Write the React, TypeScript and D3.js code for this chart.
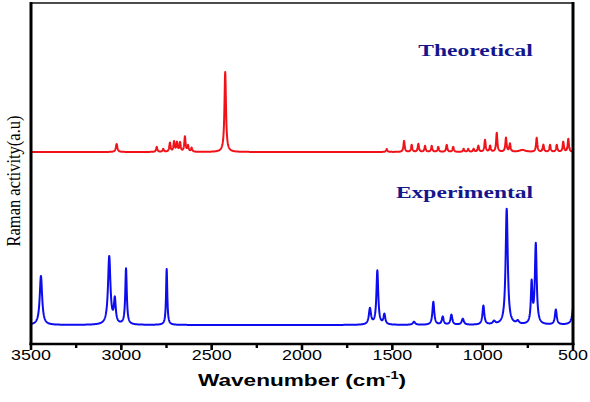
import React from 'react';
import * as d3 from 'd3';

const W = 590;
const H = 402;

const majorTicks = [3500, 3000, 2500, 2000, 1500, 1000, 500];
const minorTicks = [3250, 2750, 2250, 1750, 1250, 750];

// Experimental Raman peaks (cm-1), heights (a.u.), half widths (cm-1)
const expCenters = [3445, 3067, 3036, 2974, 2749, 1624, 1583, 1544, 1380, 1273, 1221, 1173, 1110, 996, 937, 867, 806, 729, 706, 595, 495];
const expHeights = [49, 68, 24, 56, 56, 16, 54, 10, 3, 23, 8, 10, 6, 19, 3, 116, 3, 40, 80, 15, 22];
const expWidths = [8, 8, 6, 5, 4, 7, 6, 6, 8, 6, 6, 6, 7, 6, 8, 7, 8, 5, 6, 6, 9];
const expOffset = 19;

// Theoretical Raman peaks
const theoCenters = [3026, 2804, 2768, 2731, 2708, 2692, 2675, 2648, 2631, 2611, 2425, 1531, 1435, 1393, 1356, 1319, 1282, 1246, 1199, 1163, 1105, 1080, 1050, 1024, 987, 959, 922, 871, 849, 780, 701, 664, 627, 590, 554, 526];
const theoHeights = [8, 5, 3, 9, 10, 9, 9, 15, 6, 4, 80, 3, 11, 7, 8, 6, 6, 5, 7, 5, 3, 3, 3, 6, 12, 6, 19, 14, 8, 2, 14, 7, 7, 7, 10, 13];
const theoWidths = [5, 4, 4, 4, 4, 4, 4, 4, 4, 4, 5, 4, 4, 4, 4, 4, 4, 4, 4, 4, 4, 4, 4, 4, 4, 4, 4, 4, 4, 20, 4, 4, 4, 4, 4, 4];
const theoOffset = 192;

const labelTheo = 'Theoretical';
const labelExp = 'Experimental';

function spectrum(centers: number[], heights: number[], widths: number[], offset: number): [number, number][] {
  const pts: [number, number][] = [];
  for (let w = 3500; w >= 500; w -= 1) {
    let v = offset;
    centers.forEach((c, i) => {
      const g = widths[i];
      v += (heights[i] * g * g) / ((w - c) * (w - c) + g * g);
    });
    pts.push([w, v]);
  }
  return pts;
}

export default function App() {
  const left = 31, right = 573, top = 3, bottom = 344;
  const x = d3.scaleLinear().domain([3500, 500]).range([left, right]);
  const y = d3.scaleLinear().domain([0, 341]).range([bottom, top]);
  const line = d3.line<[number, number]>().x(d => x(d[0])).y(d => y(d[1]));

  const exp = spectrum(expCenters, expHeights, expWidths, expOffset);
  const theo = spectrum(theoCenters, theoHeights, theoWidths, theoOffset);

  const navy = '#16168c';

  return (
    <svg width={W} height={H} style={{ position: 'absolute', left: 0, top: 0, background: '#fff' }}>
      <defs>
        <clipPath id="plot">
          <rect x={left} y={top} width={right - left} height={bottom - top} />
        </clipPath>
      </defs>
      <rect x={0} y={0} width={W} height={H} fill="#fff" />
      <g clipPath="url(#plot)">
        <path d={line(theo) || ''} fill="none" stroke="#f01218" strokeWidth={2} strokeLinejoin="round" />
        <path d={line(exp) || ''} fill="none" stroke="#0c0cee" strokeWidth={2} strokeLinejoin="round" />
      </g>
      {/* frame */}
      <line x1={left} x2={right} y1={top} y2={top} stroke="#111" strokeWidth={1.6} />
      <line x1={left} x2={left} y1={top - 1} y2={bottom + 1} stroke="#000" strokeWidth={3} />
      <line x1={right} x2={right} y1={top - 1} y2={bottom + 1} stroke="#000" strokeWidth={3} />
      <line x1={left - 1.5} x2={right + 1.5} y1={bottom} y2={bottom} stroke="#000" strokeWidth={2.6} />
      {majorTicks.map(t => (
        <line key={'M' + t} x1={x(t)} x2={x(t)} y1={bottom} y2={bottom + 6} stroke="#000" strokeWidth={2.6} />
      ))}
      {minorTicks.map(t => (
        <line key={'m' + t} x1={x(t)} x2={x(t)} y1={bottom} y2={bottom + 4} stroke="#000" strokeWidth={2.4} />
      ))}
      {majorTicks.map(t => (
        <text key={'l' + t} transform={`translate(${x(t)},${360}) scale(1.28,1)`} textAnchor="middle"
          fontFamily="'Liberation Sans', Arial, sans-serif" fontSize={14} fill="#000">{t}</text>
      ))}
      <text transform={`translate(${302},${386}) scale(1.33,1)`} textAnchor="middle"
        fontFamily="'Liberation Sans', Arial, sans-serif" fontWeight="bold" fontSize={17} fill="#000">
        Wavenumber (cm<tspan dy={-7} fontSize={11}>-1</tspan><tspan dy={7}>)</tspan>
      </text>
      <text transform={`translate(${20},${181}) scale(1.2,1) rotate(-90)`} textAnchor="middle"
        fontFamily="'Liberation Serif', 'Times New Roman', serif" fontSize={16.5} fill="#000">Raman activity(a.u)</text>
      <text transform={`translate(${475.5},${56}) scale(1.47,1)`} textAnchor="middle"
        fontFamily="'Liberation Serif', 'Times New Roman', serif" fontWeight="bold" fontSize={16} fill={navy}>{labelTheo}</text>
      <text transform={`translate(${464.5},${198}) scale(1.47,1)`} textAnchor="middle"
        fontFamily="'Liberation Serif', 'Times New Roman', serif" fontWeight="bold" fontSize={16} fill={navy}>{labelExp}</text>
    </svg>
  );
}
